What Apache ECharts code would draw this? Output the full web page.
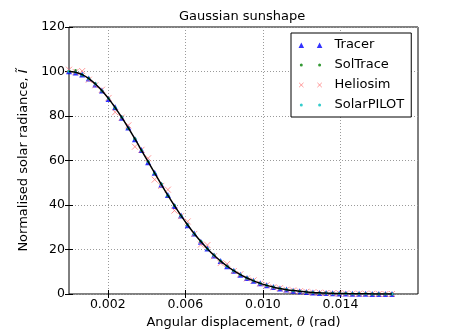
<!DOCTYPE html>
<html>
<head>
<meta charset="utf-8">
<script src="https://cdn.jsdelivr.net/npm/echarts@6/dist/echarts.min.js"></script>
<style>
  html, body { margin: 0; padding: 0; background: #fff; }
  #chart { width: 462px; height: 334px; }
</style>
</head>
<body>
<div id="chart"></div>
<script>
// Angular displacement of each sample (rad)
const theta = [
  0, 0.00034, 0.00068, 0.00102, 0.00136, 0.0017, 0.00204, 0.00238, 0.00272, 0.00306,
  0.0034, 0.00374, 0.00408, 0.00442, 0.00476, 0.0051, 0.00544, 0.00578, 0.00612, 0.00646,
  0.0068, 0.00714, 0.00748, 0.00782, 0.00816, 0.0085, 0.00884, 0.00918, 0.00952, 0.00986,
  0.0102, 0.01054, 0.01088, 0.01122, 0.01156, 0.0119, 0.01224, 0.01258, 0.01292, 0.01326,
  0.0136, 0.01394, 0.01428, 0.01462, 0.01496, 0.0153, 0.01564, 0.01598, 0.01632, 0.01666
];

// Reference Gaussian sunshape (normalised radiance)
const gaussian = [
  100.0, 99.64, 98.57, 96.80, 94.38, 91.37, 87.80, 83.78, 79.36, 74.63,
  69.68, 64.59, 59.44, 54.31, 49.26, 44.36, 39.66, 35.20, 31.02, 27.14,
  23.57, 20.33, 17.40, 14.79, 12.48, 10.46, 8.70, 7.18, 5.89, 4.79,
  3.87, 3.11, 2.47, 1.96, 1.54, 1.20, 0.93, 0.71, 0.54, 0.41,
  0.31, 0.23, 0.17, 0.13, 0.09, 0.07, 0.05, 0.03, 0.02, 0.02
];

const tracer = [
  100.1, 99.5, 98.6, 96.9, 94.2, 91.5, 87.6, 83.9, 79.2, 74.8,
  69.5, 64.7, 59.2, 54.5, 49.1, 44.5, 39.5, 35.3, 30.9, 27.2,
  23.5, 20.4, 17.3, 14.8, 12.5, 10.4, 8.7, 7.2, 5.9, 4.8,
  3.9, 3.1, 2.5, 2.0, 1.5, 1.2, 0.9, 0.7, 0.5, 0.4,
  0.3, 0.2, 0.2, 0.1, 0.1, 0.1, 0.0, 0.0, 0.0, 0.0
];

const solTrace = [
  100.3, 100.5, 98.4, 97.0, 94.5, 91.2, 88.0, 83.6, 79.5, 74.5,
  69.8, 64.4, 59.6, 54.2, 49.4, 44.2, 39.8, 35.1, 31.1, 27.0,
  23.7, 20.2, 17.5, 14.7, 12.6, 10.5, 8.6, 7.2, 5.9, 4.8,
  3.9, 3.1, 2.5, 1.9, 1.6, 1.2, 0.9, 0.7, 0.5, 0.4,
  0.3, 0.2, 0.2, 0.1, 0.1, 0.1, 0.0, 0.0, 0.0, 0.0
];

const heliosim = [
  100.8, 99.8, 100.2, 96.3, 93.8, 91.8, 88.1, 81.7, 79.3, 75.8,
  66.2, 64.8, 61.0, 51.4, 48.6, 46.9, 37.5, 35.0, 32.6, 27.0,
  22.2, 22.0, 17.0, 13.9, 13.5, 10.3, 8.9, 7.0, 6.1, 4.7,
  4.0, 3.0, 2.6, 1.9, 1.6, 1.2, 1.0, 0.7, 0.6, 0.4,
  0.3, 0.3, 0.2, 0.1, 0.1, 0.1, 0.1, 0.0, 0.0, 0.0
];

const solarPilot = [
  100.0, 99.7, 98.5, 96.7, 94.4, 91.3, 87.9, 83.7, 79.4, 74.6,
  69.7, 64.6, 59.4, 54.3, 49.3, 44.4, 39.7, 35.2, 31.0, 27.1,
  23.6, 20.3, 17.4, 14.8, 12.5, 10.5, 8.7, 7.2, 5.9, 4.8,
  3.9, 3.1, 2.5, 2.0, 1.5, 1.2, 0.9, 0.7, 0.5, 0.4,
  0.3, 0.2, 0.2, 0.1, 0.1, 0.1, 0.0, 0.0, 0.0, 0.0
];

const xTicks = [0.002, 0.006, 0.010, 0.014];
const xTickLabels = ['0.002', '0.006', '0.010', '0.014'];

const pairs = ys => theta.map((t, i) => [t, ys[i]]);

const FONT = 'DejaVu Sans';
const X_MIN = 0, X_MAX = 0.018;

// Legend icons: two markers each, on a common 31x6 box
const ICON_TRI = 'path://M0,0 M31,6 M0,6 L2.8,0.6 L5.6,6 Z M18.3,6 L21.1,0.6 L23.9,6 Z';
const ICON_DOT = 'path://M0,0 M31,6 M4.3,3 A1.5,1.5 0 1 1 1.3,3 A1.5,1.5 0 1 1 4.3,3 Z M22.6,3 A1.5,1.5 0 1 1 19.6,3 A1.5,1.5 0 1 1 22.6,3 Z';
const ICON_X = 'path://M0,0 M31,6 M0.6,0.8 L5,5.2 M5,0.8 L0.6,5.2 M18.9,0.8 L23.3,5.2 M23.3,0.8 L18.9,5.2';

const chart = echarts.init(document.getElementById('chart'), null, { renderer: 'canvas' });

const tickCommon = { show: true, inside: true, length: 4, lineStyle: { color: '#000', width: 1 } };

chart.setOption({
  animation: false,
  backgroundColor: '#fff',
  title: {
    text: 'Gaussian sunshape',
    left: 179,
    top: 10,
    padding: 0,
    textStyle: { fontFamily: FONT, fontSize: 13, fontWeight: 'normal', color: '#000' }
  },
  grid: {
    left: 69, right: 44, top: 27, bottom: 40,
    show: true, borderColor: '#000', borderWidth: 1, backgroundColor: 'transparent'
  },
  legend: {
    orient: 'vertical',
    left: 291, top: 33,
    padding: [5, 7, 5, 7],
    itemGap: 6,
    itemWidth: 31, itemHeight: 6,
    backgroundColor: '#fff',
    borderColor: '#000', borderWidth: 1, borderRadius: 0,
    textStyle: { fontFamily: FONT, fontSize: 13, color: '#000', lineHeight: 14 },
    data: [
      { name: 'Tracer', icon: ICON_TRI, itemStyle: { color: '#0000ff', borderWidth: 0 } },
      { name: 'SolTrace', icon: ICON_DOT, itemStyle: { color: '#008000', borderWidth: 0 } },
      { name: 'Heliosim', icon: ICON_X, itemStyle: { color: 'transparent', borderColor: '#ff8080', borderWidth: 1 } },
      { name: 'SolarPILOT', icon: ICON_DOT, itemStyle: { color: '#00bfbf', borderWidth: 0 } }
    ]
  },
  xAxis: [
    {
      type: 'value', min: X_MIN, max: X_MAX, position: 'bottom',
      name: 'Angular displacement, {i|θ} (rad)',
      nameLocation: 'middle', nameGap: 20,
      nameTextStyle: {
        fontFamily: FONT, fontSize: 13, color: '#000',
        rich: { i: { fontFamily: 'DejaVu Serif', fontStyle: 'italic', fontSize: 13, color: '#000' } }
      },
      axisLine: { show: false },
      axisTick: Object.assign({ customValues: xTicks }, tickCommon),
      axisLabel: {
        customValues: xTicks,
        formatter: v => xTickLabels[xTicks.findIndex(t => Math.abs(t - v) < 1e-9)] || '',
        fontFamily: FONT, fontSize: 12.5, color: '#000', margin: 4
      },
      splitLine: { show: true, lineStyle: { color: '#9a9a9a', type: [1, 2], width: 1 } }
    },
    {
      type: 'value', min: X_MIN, max: X_MAX, position: 'top',
      axisLine: { show: false },
      axisTick: Object.assign({ customValues: xTicks }, tickCommon),
      axisLabel: { show: false, customValues: xTicks },
      splitLine: { show: false }
    }
  ],
  yAxis: [
    {
      type: 'value', min: 0, max: 120, interval: 20, position: 'left',
      name: 'Normalised solar radiance, {i|Ĩ}',
      nameLocation: 'middle', nameGap: 33, nameRotate: 90,
      nameTextStyle: {
        fontFamily: FONT, fontSize: 13, color: '#000',
        rich: { i: { fontFamily: FONT, fontStyle: 'italic', fontSize: 13, color: '#000' } }
      },
      axisLine: { show: false },
      axisTick: tickCommon,
      axisLabel: { fontFamily: FONT, fontSize: 12.5, color: '#000', margin: 4 },
      splitLine: { show: true, lineStyle: { color: '#9a9a9a', type: [1, 2], width: 1 } }
    },
    {
      type: 'value', min: 0, max: 120, interval: 20, position: 'right',
      axisLine: { show: false },
      axisTick: tickCommon,
      axisLabel: { show: false },
      splitLine: { show: false }
    }
  ],
  series: [
    {
      name: 'Tracer', type: 'scatter', data: pairs(tracer),
      symbol: 'triangle', symbolSize: 6,
      itemStyle: { color: '#0000ff' }, z: 2
    },
    {
      name: 'SolTrace', type: 'scatter', data: pairs(solTrace),
      symbol: 'circle', symbolSize: 3,
      itemStyle: { color: '#008000' }, z: 3
    },
    {
      name: 'Heliosim', type: 'scatter', data: pairs(heliosim),
      symbol: 'path://M0,0 L10,10 M10,0 L0,10', symbolSize: 6,
      itemStyle: { color: 'transparent', borderColor: '#ff8080', borderWidth: 1 }, z: 4
    },
    {
      name: 'SolarPILOT', type: 'scatter', data: pairs(solarPilot),
      symbol: 'circle', symbolSize: 3,
      itemStyle: { color: '#00bfbf' }, z: 5
    },
    {
      name: 'Gaussian', type: 'line', data: pairs(gaussian),
      showSymbol: false, smooth: true,
      lineStyle: { color: '#000', width: 1.5 }, z: 6
    }
  ]
});
</script>
</body>
</html>
